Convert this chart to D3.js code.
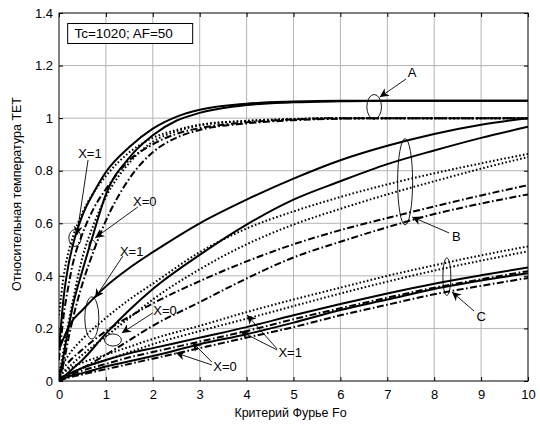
<!DOCTYPE html>
<html lang="ru">
<head>
<meta charset="UTF-8">
<title>ТЕТ vs Fo</title>
<script src="https://d3js.org/d3.v7.min.js"></script>
<style>
    body { margin: 0; background: #fff; }
    svg { font-family: "Liberation Sans", Arial, sans-serif; }
    .grid line { stroke: #b4b4b4; stroke-width: 1; }
    .tick text { font-size: 13px; fill: #000; }
    .ann { fill: none; stroke: #000; stroke-width: 0.9; }
</style>
</head>
<body>
<script>
// Fo sampling for group A (steep start) and for groups B, C
const foA  = [0, 0.1, 0.2, 0.3, 0.5, 0.75, 1, 1.5, 2, 2.5, 3, 4, 5, 6, 7, 8, 9, 10];
const foBC = [0, 0.25, 0.5, 1, 1.5, 2, 3, 4, 5, 6, 7, 8, 9, 10];

// group A
const aSolidX1 = [0.12, 0.32, 0.44, 0.52, 0.63, 0.72, 0.795, 0.89, 0.96, 1.005, 1.032, 1.055, 1.063, 1.066, 1.066, 1.066, 1.066, 1.066];
const aSolidX0 = [0, 0.1, 0.2, 0.29, 0.42, 0.57, 0.71, 0.85, 0.935, 0.99, 1.02, 1.05, 1.06, 1.064, 1.066, 1.066, 1.066, 1.066];
const aDotX1   = [0.25, 0.4, 0.49, 0.55, 0.64, 0.72, 0.78, 0.87, 0.925, 0.955, 0.975, 0.99, 0.997, 1, 1, 1, 1, 1];
const aDotX0   = [0.02, 0.12, 0.22, 0.31, 0.47, 0.6, 0.7, 0.83, 0.91, 0.95, 0.972, 0.989, 0.996, 1, 1, 1, 1, 1];
const aDashX1  = [0.08, 0.25, 0.36, 0.45, 0.56, 0.66, 0.73, 0.84, 0.9, 0.94, 0.962, 0.984, 0.995, 1, 1, 1, 1, 1];
const aDashX0  = [0, 0.07, 0.16, 0.24, 0.37, 0.5, 0.61, 0.77, 0.87, 0.925, 0.955, 0.98, 0.992, 0.998, 1, 1, 1, 1];

// group B
const bSolidX1 = [0.12, 0.22, 0.27, 0.36, 0.43, 0.49, 0.6, 0.69, 0.77, 0.84, 0.895, 0.94, 0.975, 1.0];
const bSolidX0 = [0, 0.04, 0.08, 0.18, 0.27, 0.35, 0.48, 0.595, 0.69, 0.76, 0.825, 0.877, 0.925, 0.967];
const bDotX1   = [0.04, 0.11, 0.16, 0.24, 0.31, 0.37, 0.49, 0.58, 0.645, 0.7, 0.748, 0.79, 0.828, 0.864];
const bDotX0   = [0.02, 0.06, 0.1, 0.17, 0.24, 0.31, 0.425, 0.52, 0.595, 0.655, 0.71, 0.76, 0.808, 0.852];
const bDashX1  = [0.03, 0.08, 0.12, 0.19, 0.245, 0.295, 0.38, 0.455, 0.52, 0.574, 0.62, 0.664, 0.706, 0.745];
const bDashX0  = [0, 0.03, 0.05, 0.1, 0.155, 0.21, 0.3, 0.39, 0.47, 0.53, 0.585, 0.635, 0.675, 0.71];

// group C
const cSolidX1 = [0.01, 0.03, 0.05, 0.08, 0.105, 0.125, 0.165, 0.205, 0.25, 0.293, 0.333, 0.37, 0.402, 0.432];
const cSolidX0 = [0, 0.02, 0.03, 0.055, 0.075, 0.095, 0.14, 0.178, 0.222, 0.27, 0.31, 0.35, 0.382, 0.41];
const cDotX1   = [0.02, 0.05, 0.07, 0.1, 0.13, 0.16, 0.21, 0.262, 0.31, 0.355, 0.4, 0.44, 0.478, 0.512];
const cDotX0   = [0.01, 0.03, 0.05, 0.08, 0.11, 0.14, 0.19, 0.237, 0.285, 0.333, 0.378, 0.42, 0.458, 0.493];
const cDashX1  = [0.01, 0.025, 0.04, 0.065, 0.09, 0.11, 0.15, 0.19, 0.235, 0.277, 0.317, 0.355, 0.387, 0.418];
const cDashX0  = [0, 0.015, 0.025, 0.045, 0.065, 0.085, 0.125, 0.165, 0.205, 0.25, 0.29, 0.33, 0.362, 0.392];

const xTicks = [0, 1, 2, 3, 4, 5, 6, 7, 8, 9, 10];
const yTicks = [0, 0.2, 0.4, 0.6, 0.8, 1, 1.2, 1.4];

// annotations in data units: label [fo, t], arrows [[fromFo, fromT, toFo, toT]], ellipse [fo, t, rFo, rT]
const notes = [
    { text: "A",   at: [7.53, 1.175], arrows: [[7.40, 1.149, 6.84, 1.080]], ell: [6.72, 1.043, 0.156, 0.047] },
    { text: "B",   at: [8.47, 0.548], arrows: [[8.32, 0.563, 7.53, 0.624]], ell: [7.38, 0.758, 0.16, 0.164] },
    { text: "C",   at: [9.0, 0.247],  arrows: [[8.85, 0.266, 8.38, 0.339]], ell: [8.27, 0.397, 0.085, 0.072] },
    { text: "X=1", at: [0.66, 0.867], arrows: [[0.62, 0.841, 0.38, 0.555]], ell: [0.34, 0.544, 0.13, 0.032] },
    { text: "X=0", at: [1.83, 0.681], arrows: [[1.68, 0.662, 0.77, 0.544]], ell: [0.71, 0.517, 0.07, 0.019] },
    { text: "X=1", at: [1.55, 0.494], arrows: [[1.36, 0.475, 0.77, 0.316]], ell: [0.70, 0.24, 0.15, 0.08] },
    { text: "X=0", at: [2.26, 0.27],  arrows: [[2.0, 0.259, 1.34, 0.183]],  ell: [1.15, 0.156, 0.18, 0.023] },
    { text: "X=0", at: [3.54, 0.057], arrows: [[3.26, 0.072, 2.84, 0.148], [3.26, 0.061, 2.49, 0.107]] },
    { text: "X=1", at: [4.93, 0.11],  arrows: [[4.65, 0.118, 3.86, 0.19], [4.65, 0.122, 4.01, 0.251]] }
];

const width = 540, height = 426;
const margin = { top: 13, right: 12, bottom: 45, left: 59 };

const x = d3.scaleLinear().domain([0, 10]).range([margin.left, width - margin.right]);
const y = d3.scaleLinear().domain([0, 1.4]).range([height - margin.bottom, margin.top]);

const styles = {
    solid: null,
    dot: "1.6,2.2",
    dash: "7,2.5,1.6,2.5"
};

const curves = [
    { fo: foA, v: aSolidX1, s: "solid" }, { fo: foA, v: aSolidX0, s: "solid" },
    { fo: foA, v: aDotX1, s: "dot" },     { fo: foA, v: aDotX0, s: "dot" },
    { fo: foA, v: aDashX1, s: "dash" },   { fo: foA, v: aDashX0, s: "dash" },
    { fo: foBC, v: bSolidX1, s: "solid" }, { fo: foBC, v: bSolidX0, s: "solid" },
    { fo: foBC, v: bDotX1, s: "dot" },     { fo: foBC, v: bDotX0, s: "dot" },
    { fo: foBC, v: bDashX1, s: "dash" },   { fo: foBC, v: bDashX0, s: "dash" },
    { fo: foBC, v: cSolidX1, s: "solid" }, { fo: foBC, v: cSolidX0, s: "solid" },
    { fo: foBC, v: cDotX1, s: "dot" },     { fo: foBC, v: cDotX0, s: "dot" },
    { fo: foBC, v: cDashX1, s: "dash" },   { fo: foBC, v: cDashX0, s: "dash" }
];

const svg = d3.select("body").append("svg")
    .attr("width", width)
    .attr("height", height);

svg.append("rect").attr("width", width).attr("height", height).attr("fill", "#fff");

const defs = svg.append("defs");
defs.append("marker")
    .attr("id", "head")
    .attr("viewBox", "0 0 10 10")
    .attr("refX", 10).attr("refY", 5)
    .attr("markerWidth", 13).attr("markerHeight", 9)
    .attr("markerUnits", "userSpaceOnUse")
    .attr("orient", "auto")
    .append("path")
    .attr("d", "M0,0 L10,5 L0,10 L3,5 Z")
    .attr("fill", "#000");
defs.append("clipPath").attr("id", "plot")
    .append("rect")
    .attr("x", margin.left).attr("y", margin.top)
    .attr("width", width - margin.left - margin.right)
    .attr("height", height - margin.top - margin.bottom);

// grid
svg.append("g").attr("class", "grid")
    .selectAll("line").data(xTicks.slice(1, -1)).enter().append("line")
    .attr("x1", d => x(d)).attr("x2", d => x(d))
    .attr("y1", y(0)).attr("y2", y(1.4));
svg.append("g").attr("class", "grid")
    .selectAll("line").data(yTicks.slice(1, -1)).enter().append("line")
    .attr("y1", d => y(d)).attr("y2", d => y(d))
    .attr("x1", x(0)).attr("x2", x(10));

// curves
const line = d3.line().curve(d3.curveMonotoneX);
svg.append("g").attr("clip-path", "url(#plot)")
    .selectAll("path").data(curves).enter().append("path")
    .attr("d", c => line(c.fo.map((f, i) => [x(f), y(c.v[i])])))
    .attr("fill", "none")
    .attr("stroke", "#000")
    .attr("stroke-width", 2)
    .attr("stroke-dasharray", c => styles[c.s]);

// axes
const fmt = d => String(d);
svg.append("g").attr("transform", `translate(0,${y(0)})`)
    .call(d3.axisBottom(x).tickValues(xTicks).tickFormat(fmt).tickSizeInner(-4).tickSizeOuter(0).tickPadding(9))
    .call(g => g.select(".domain").remove());
svg.append("g").attr("transform", `translate(0,${y(1.4)})`)
    .call(d3.axisTop(x).tickValues(xTicks).tickFormat("").tickSizeInner(-4).tickSizeOuter(0))
    .call(g => g.select(".domain").remove());
svg.append("g").attr("transform", `translate(${x(0)},0)`)
    .call(d3.axisLeft(y).tickValues(yTicks).tickFormat(fmt).tickSizeInner(-4).tickSizeOuter(0).tickPadding(6))
    .call(g => g.select(".domain").remove());
svg.append("g").attr("transform", `translate(${x(10)},0)`)
    .call(d3.axisRight(y).tickValues(yTicks).tickFormat("").tickSizeInner(-4).tickSizeOuter(0))
    .call(g => g.select(".domain").remove());
svg.selectAll(".tick line").attr("stroke", "#000");

svg.append("rect")
    .attr("x", x(0)).attr("y", y(1.4))
    .attr("width", x(10) - x(0)).attr("height", y(0) - y(1.4))
    .attr("fill", "none").attr("stroke", "#000").attr("stroke-width", 1);

// annotations
const ann = svg.append("g");
notes.forEach(n => {
    if (n.ell) {
        ann.append("ellipse").attr("class", "ann")
            .attr("cx", x(n.ell[0])).attr("cy", y(n.ell[1]))
            .attr("rx", x(n.ell[2]) - x(0)).attr("ry", y(0) - y(n.ell[3]));
    }
    n.arrows.forEach(a => {
        ann.append("line").attr("class", "ann")
            .attr("x1", x(a[0])).attr("y1", y(a[1]))
            .attr("x2", x(a[2])).attr("y2", y(a[3]))
            .attr("marker-end", "url(#head)");
    });
    ann.append("text")
        .attr("x", x(n.at[0])).attr("y", y(n.at[1]))
        .attr("text-anchor", "middle")
        .attr("dominant-baseline", "central")
        .attr("font-size", 13)
        .text(n.text);
});

// parameter box
svg.append("rect")
    .attr("x", x(0.185)).attr("y", y(1.36))
    .attr("width", x(2.85) - x(0.185)).attr("height", y(1.284) - y(1.36))
    .attr("fill", "#fff").attr("stroke", "#000").attr("stroke-width", 1);
svg.append("text")
    .attr("x", x(0.33)).attr("y", y(1.322))
    .attr("dominant-baseline", "central")
    .attr("font-size", 13.5)
    .text("Tc=1020; AF=50");

// axis titles
svg.append("text")
    .attr("x", (x(0) + x(10)) / 2 - 3).attr("y", 417)
    .attr("text-anchor", "middle")
    .attr("font-size", 12.5)
    .text("Критерий Фурье Fo");
svg.append("text")
    .attr("transform", `translate(21,${(y(0) + y(1.4)) / 2 - 3}) rotate(-90)`)
    .attr("text-anchor", "middle")
    .attr("font-size", 12.5)
    .text("Относительная температура ТЕТ");
</script>
</body>
</html>
